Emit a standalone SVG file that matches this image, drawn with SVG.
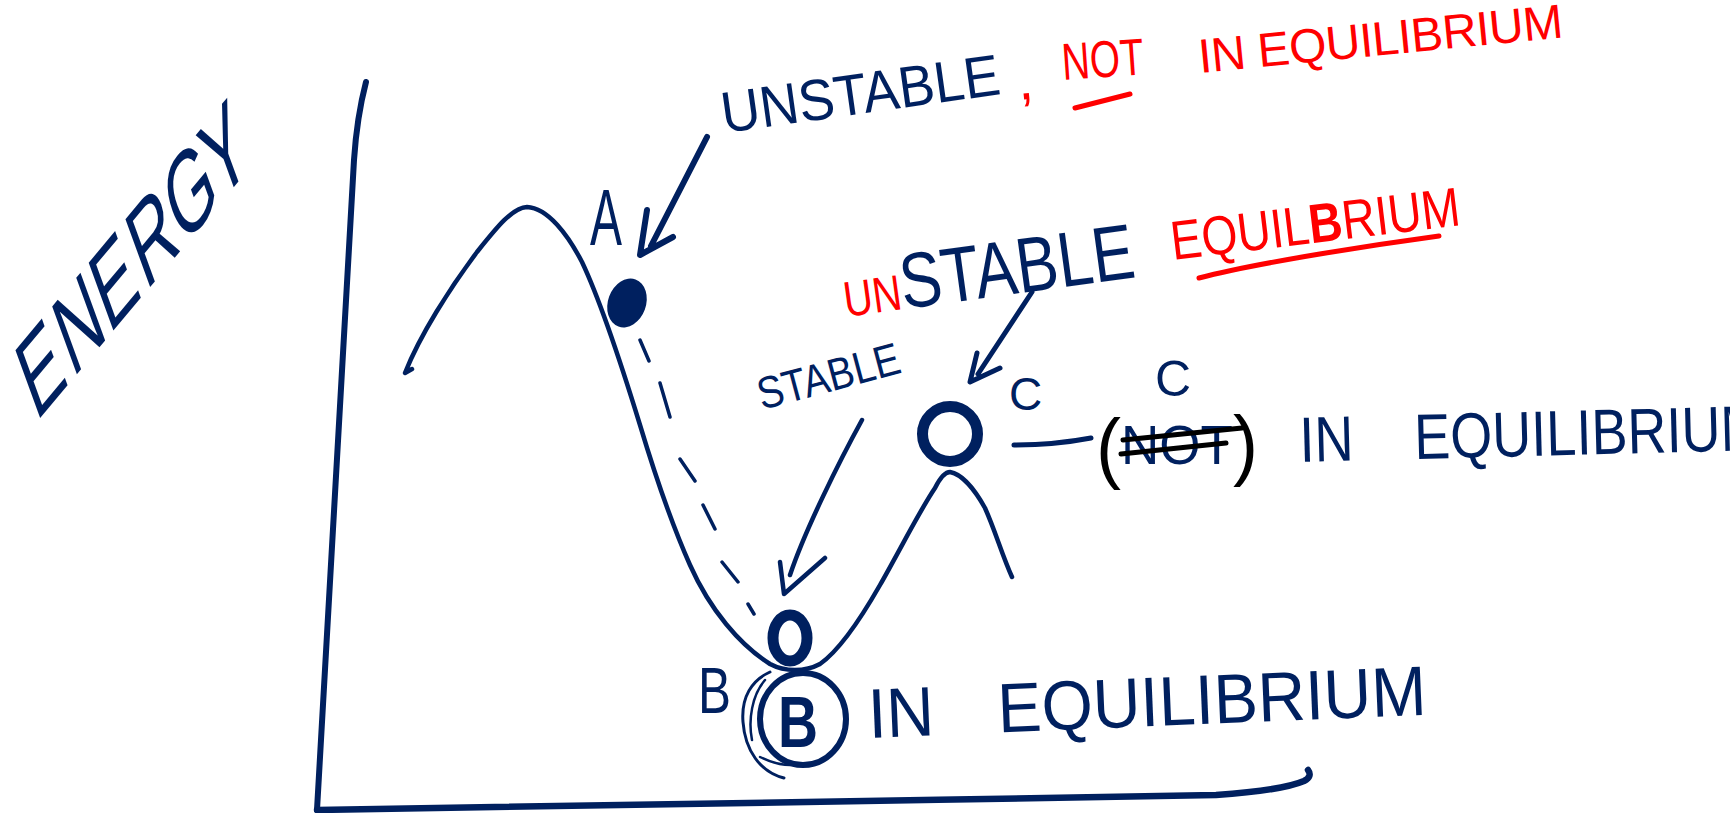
<svg xmlns="http://www.w3.org/2000/svg" width="1730" height="813" viewBox="0 0 1730 813">
<style>
.nv{stroke:#00205f;fill:none;stroke-linecap:round;stroke-linejoin:round}
.rd{stroke:#ff0000;fill:none;stroke-linecap:round;stroke-linejoin:round}
.bk{stroke:#000;fill:none;stroke-linecap:round;stroke-linejoin:round}
.t{font-family:"Liberation Sans",Arial,sans-serif}
.tn{fill:#00205f}
.tr{fill:#ff0000}
.tb{fill:#000}
</style>
<rect width="1730" height="813" fill="#fff"/>
<g id="axes">
<path class="nv" stroke-width="6" d="M366,82 C360,105 356,130 354,160 C348,260 335,500 317,810"/>
<path class="nv" stroke-width="6.5" d="M317,810 C500,806 900,801 1216,795 C1260,792 1290,787 1304,781 C1310,778 1311,774 1308,770"/>
<text class="t tn" font-size="105" transform="matrix(0.482,-0.575,0.342,0.94,36,423)" x="0 76 152 228 304 380" y="0">ENERGY</text>
</g>
<g id="energy-curve">
<path class="nv" stroke-width="4.5" d="M412,369 L405,373 C420,335 450,288 477,252 C497,227 512,208 527,207 C548,208 568,235 582,262 C600,300 620,360 640,425 C655,475 670,520 690,565 C710,610 740,645 770,664 C785,672 805,672 820,664 C840,650 860,620 880,585 C900,550 920,510 935,488 C940,478 945,472 950,472 C962,474 975,490 985,508 C995,530 1002,555 1012,577"/>
<path class="nv" stroke-width="3.5" d="M640,340 L649,361 M660,383 L670,417 M680,459 L695,481 M703,505 L715,529 M722,562 L738,582 M748,604 L754,614"/>
</g>
<g id="node-a">
<ellipse cx="627" cy="303" rx="19" ry="25" transform="rotate(20 627 303)" fill="#00205f"/>
<text class="t tn" font-size="80" x="590" y="245" textLength="32" lengthAdjust="spacingAndGlyphs">A</text>
</g>
<g id="node-b">
<ellipse cx="803" cy="719" rx="43" ry="46" class="nv" stroke-width="6" fill="#fff"/>
<path class="nv" stroke-width="3" d="M784,778 C760,772 745,750 743,722 C741,697 752,680 770,672"/>
<path class="nv" stroke-width="2.5" d="M752,740 C748,720 752,695 765,680 M760,757 C770,762 780,765 790,765"/>
<ellipse cx="790" cy="638" rx="17" ry="23" class="nv" stroke-width="11" fill="#fff"/>
<text class="t tn" font-size="72" font-weight="bold" x="778" y="747" textLength="40" lengthAdjust="spacingAndGlyphs">B</text>
<text class="t tn" font-size="65" x="698" y="713" textLength="33" lengthAdjust="spacingAndGlyphs">B</text>
<text class="t tn" font-size="70" word-spacing="48" x="0" y="0" transform="translate(869 738) rotate(-2.4) scale(0.943 1)">IN EQUILIBRIUM</text>
</g>
<g id="node-c">
<circle cx="950" cy="434" r="27.5" class="nv" stroke-width="11" fill="#fff"/>
<text class="t tn" font-size="46" x="1009" y="410">C</text>
<text class="t tn" font-size="50" x="1155" y="396">C</text>
<text class="t tb" font-size="78" x="1096" y="474" textLength="162" lengthAdjust="spacingAndGlyphs">(<tspan class="tn" font-size="55" dy="-10">NOT</tspan><tspan dy="7">)</tspan></text>
<path class="bk" stroke-width="5" d="M1123,440 L1242,428 M1121,454 L1226,443"/>
<text class="t tn" font-size="64" word-spacing="54" x="0" y="0" transform="translate(1300 462) rotate(-1.5) scale(0.845 1)">IN EQUILIBRIUM</text>
</g>
<g id="labels">
<text class="t tn" font-size="58" x="724" y="133" transform="rotate(-8 724 133)" textLength="281" lengthAdjust="spacingAndGlyphs">UNSTABLE</text>
<text class="t tr" font-size="56" x="1019" y="100" transform="rotate(-6 1019 100)">,</text>
<text class="t tr" font-size="52" x="1063" y="80" transform="rotate(-4 1063 80)" textLength="82" lengthAdjust="spacingAndGlyphs">NOT</text>
<path class="rd" stroke-width="5" d="M1075,108 L1130,94"/>
<text class="t tr" font-size="48" x="1200" y="73" transform="rotate(-5.6 1200 73)" textLength="366" lengthAdjust="spacing">IN EQUILIBRIUM</text>
<text class="t" x="846" y="317" transform="rotate(-7.8 846 317)" textLength="294" lengthAdjust="spacingAndGlyphs"><tspan class="tr" font-size="50">UN</tspan><tspan class="tn" font-size="78">STABLE</tspan></text>
<text class="t tr" font-size="55" x="1173" y="260" transform="rotate(-6.9 1173 260)" textLength="291" lengthAdjust="spacingAndGlyphs">EQUIL<tspan font-weight="bold">B</tspan>RIUM</text>
<path class="rd" stroke-width="5" d="M1199,278 C1260,262 1380,244 1439,236"/>
<text class="t tn" font-size="45" x="762" y="410" transform="rotate(-15 762 410)" textLength="146" lengthAdjust="spacingAndGlyphs">STABLE</text>
</g>
<g id="connectors">
<path class="nv" stroke-width="6" d="M707,137 L651,246 M647,210 L640,255 L673,237"/>
<path class="nv" stroke-width="5" d="M1032,292 L978,374 M977,353 L970,382 L1000,368"/>
<path class="nv" stroke-width="4.5" d="M862,420 C840,460 805,530 790,575 M780,562 L784,594 L825,558"/>
<path class="nv" stroke-width="5" d="M1014,445 C1040,445 1070,442 1091,438"/>
</g>
</svg>
